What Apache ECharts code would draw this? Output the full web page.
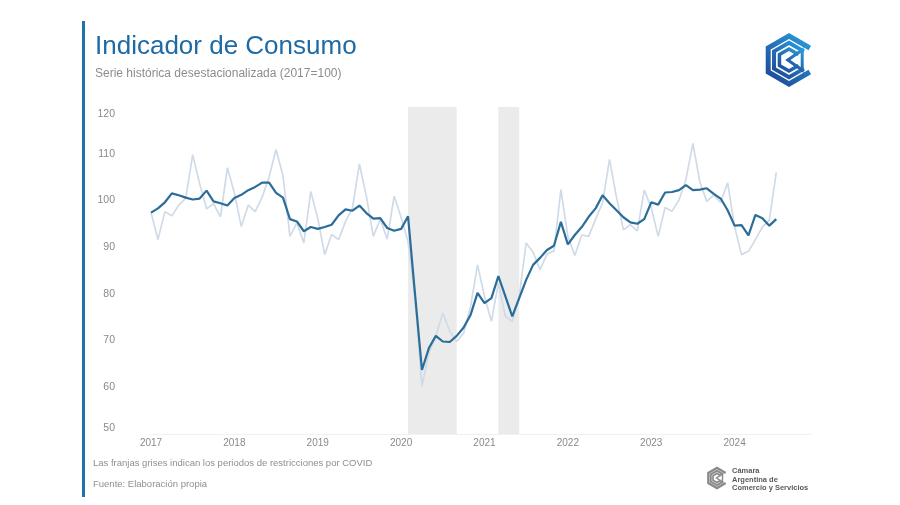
<!DOCTYPE html>
<html>
<head>
<meta charset="utf-8">
<script src="https://cdn.jsdelivr.net/npm/echarts@6/dist/echarts.min.js"></script>
<style>
html,body{margin:0;padding:0;background:#fff;}
#c{width:900px;height:505px;}
</style>
</head>
<body>
<div id="c"></div>
<script>
// ---- data ----
const years = [2017, 2018, 2019, 2020, 2021, 2022, 2023, 2024];
const monthNums = ['01','02','03','04','05','06','07','08','09','10','11','12'];

// Serie desestacionalizada (línea oscura), ene-2017 a jul-2024
const desest = [
  97.4, 98.3, 99.6, 101.5, 101.1, 100.6, 100.2, 100.4, 102.1, 99.8, 99.4, 98.9,
  100.5, 101.2, 102.2, 102.9, 103.8, 103.8, 101.6, 100.6, 96.0, 95.5, 93.4, 94.3,
  93.9, 94.3, 94.8, 96.8, 98.1, 97.8, 98.9, 97.3, 96.1, 96.2, 94.1, 93.5,
  93.9, 96.6, 80.0, 63.7, 68.4, 71.0, 69.8, 69.7, 71.0, 72.8, 75.5, 80.2,
  78.0, 79.1, 83.8, 79.5, 75.2, 79.1, 83.0, 86.2, 87.7, 89.4, 90.3, 95.4,
  90.6, 92.6, 94.3, 96.5, 98.3, 101.1, 99.4, 97.9, 96.4, 95.3, 95.0, 96.0,
  99.6, 99.1, 101.7, 101.8, 102.2, 103.3, 102.2, 102.3, 102.6, 101.4, 100.4, 97.9,
  94.6, 94.7, 92.5, 96.9, 96.2, 94.6, 96.0
];

// Serie original (línea clara)
const original = [
  97.5, 91.6, 97.6, 96.7, 99.0, 100.5, 109.8, 103.6, 98.2, 99.3, 96.5, 107.0,
  101.6, 94.4, 99.0, 97.6, 100.7, 105.0, 110.9, 105.3, 92.3, 95.2, 90.9, 101.9,
  96.2, 88.4, 92.7, 91.6, 95.5, 98.4, 107.8, 100.9, 92.3, 96.0, 91.7, 100.9,
  96.4, 91.2, 79.0, 60.2, 67.3, 70.9, 75.9, 72.0, 69.8, 71.6, 77.3, 86.2,
  79.5, 74.1, 82.3, 75.2, 74.1, 79.5, 90.9, 88.9, 85.2, 88.5, 89.2, 102.3,
  92.3, 88.2, 92.6, 92.3, 96.0, 99.5, 108.8, 100.7, 93.7, 94.8, 93.5, 102.2,
  98.5, 92.3, 98.5, 97.7, 100.1, 104.5, 112.2, 104.0, 99.8, 101.2, 99.6, 103.8,
  94.4, 88.4, 89.1, 91.6, 94.3, 95.8, 106.0
];

// Períodos de restricciones por COVID (franjas grises)
const covidBands = [['2020-02', '2020-09'], ['2021-03', '2021-06']];

const yMin = 50, yMax = 120, yStep = 10;

// ---- build ----
const months = [];
years.forEach(y => monthNums.forEach(m => months.push(y + '-' + m)));

const chart = echarts.init(document.getElementById('c'), null, {renderer: 'canvas'});

const blueGrad = new echarts.graphic.LinearGradient(0, 1, 1, 0, [
  {offset: 0, color: '#1d3f8f'}, {offset: 1, color: '#2aa3e2'}
]);

function hexPts(cx, cy, r) {
  const p = [];
  for (let k = 0; k < 6; k++) {
    const a = (-90 + 60 * k) * Math.PI / 180;
    p.push([cx + r * Math.cos(a), cy + r * Math.sin(a)]);
  }
  return p;
}
function cPts(cx, cy, r) {
  // open hexagon: from upper-right vertex counter-clockwise to lower-right vertex
  const idx = [1, 0, 5, 4, 3, 2];
  const all = hexPts(cx, cy, r);
  return idx.map(i => all[i]);
}
function logo(cx, cy, r, color, lw) {
  return [
    {type: 'polyline', shape: {points: cPts(cx, cy, r)}, style: {stroke: color, lineWidth: lw, fill: null, lineJoin: 'miter'}},
    {type: 'polyline', shape: {points: cPts(cx, cy, r * 0.72).slice(0, 6)}, style: {stroke: color, lineWidth: lw * 0.8, fill: null}},
    {type: 'polyline', shape: {points: cPts(cx, cy, r * 0.46)}, style: {stroke: color, lineWidth: lw * 0.7, fill: null}},
    {type: 'polygon', shape: {points: [[cx + r * 0.55, cy - r * 0.42], [cx + r * 0.55, cy + r * 0.42], [cx - r * 0.05, cy]]},
      style: {stroke: color, lineWidth: lw * 0.6, fill: null}}
  ];
}

const option = {
  animation: false,
  backgroundColor: '#ffffff',
  grid: {left: 151, right: 89, top: 107, bottom: 71, containLabel: false},
  xAxis: {
    type: 'category',
    data: months,
    boundaryGap: false,
    axisLine: {show: true, lineStyle: {color: '#f1f1f1', width: 1}},
    axisTick: {show: false},
    splitLine: {show: false},
    axisLabel: {
      interval: (i) => i % 12 === 0,
      formatter: (v) => v.slice(0, 4),
      color: '#8a8a8a',
      fontSize: 10,
      fontFamily: 'Liberation Sans, Arial, sans-serif',
      margin: 4
    }
  },
  yAxis: {
    type: 'value',
    min: yMin, max: yMax, interval: yStep,
    axisLine: {show: false},
    axisTick: {show: false},
    splitLine: {show: false},
    axisLabel: {
      color: '#8a8a8a',
      fontSize: 10.5,
      fontFamily: 'Liberation Sans, Arial, sans-serif',
      margin: 36,
      formatter: (v) => v === yMax ? '{t|' + v + '}' : (v === yMin ? '{b|' + v + '}' : String(v)),
      rich: {
        t: {padding: [15, 0, 0, 0], color: '#8a8a8a', fontSize: 10.5, fontFamily: 'Liberation Sans, Arial, sans-serif'},
        b: {padding: [0, 0, 12, 0], color: '#8a8a8a', fontSize: 10.5, fontFamily: 'Liberation Sans, Arial, sans-serif'}
      }
    }
  },
  series: [
    {
      name: 'bands', type: 'line', data: [], z: 0, silent: true,
      markArea: {
        silent: true,
        itemStyle: {color: '#ebebeb'},
        data: covidBands.map(b => [{xAxis: b[0]}, {xAxis: b[1]}])
      }
    },
    {
      name: 'Serie original', type: 'line', data: original, symbol: 'none', z: 2,
      lineStyle: {color: '#cfdbe8', width: 1.7}
    },
    {
      name: 'Serie desestacionalizada', type: 'line', data: desest, symbol: 'none', z: 3,
      lineStyle: {color: '#2b6d98', width: 2.2}
    }
  ],
  graphic: [
    {type: 'rect', shape: {x: 82, y: 21, width: 3, height: 476}, style: {fill: '#1f72b0'}},
    {type: 'text', x: 95, y: 47, style: {text: 'Indicador de Consumo', fill: '#1e6aa5', font: '26px "Liberation Sans", Arial, sans-serif', textVerticalAlign: 'middle'}},
    {type: 'text', x: 95, y: 74, style: {text: 'Serie histórica desestacionalizada (2017=100)', fill: '#8c8c8c', font: '12px "Liberation Sans", Arial, sans-serif', textVerticalAlign: 'middle'}},
    {type: 'text', x: 93, y: 463, style: {text: 'Las franjas grises indican los periodos de restricciones por COVID', fill: '#8f8f8f', font: '9.5px "Liberation Sans", Arial, sans-serif', textVerticalAlign: 'middle'}},
    {type: 'text', x: 93, y: 484, style: {text: 'Fuente: Elaboración propia', fill: '#8f8f8f', font: '9.5px "Liberation Sans", Arial, sans-serif', textVerticalAlign: 'middle'}},
    {type: 'group', children: logo(789, 60, 24, blueGrad, 5)},
    {type: 'group', children: logo(717, 478, 10, '#8a8a8a', 2.4)},
    {type: 'text', x: 732, y: 471, style: {text: 'Cámara', fill: '#5a5a5a', font: 'bold 7.5px "Liberation Sans", Arial, sans-serif', textVerticalAlign: 'middle'}},
    {type: 'text', x: 732, y: 479.5, style: {text: 'Argentina de', fill: '#5a5a5a', font: 'bold 7.5px "Liberation Sans", Arial, sans-serif', textVerticalAlign: 'middle'}},
    {type: 'text', x: 732, y: 488, style: {text: 'Comercio y Servicios', fill: '#5a5a5a', font: 'bold 7.5px "Liberation Sans", Arial, sans-serif', textVerticalAlign: 'middle'}}
  ]
};
chart.setOption(option);
</script>
</body>
</html>
